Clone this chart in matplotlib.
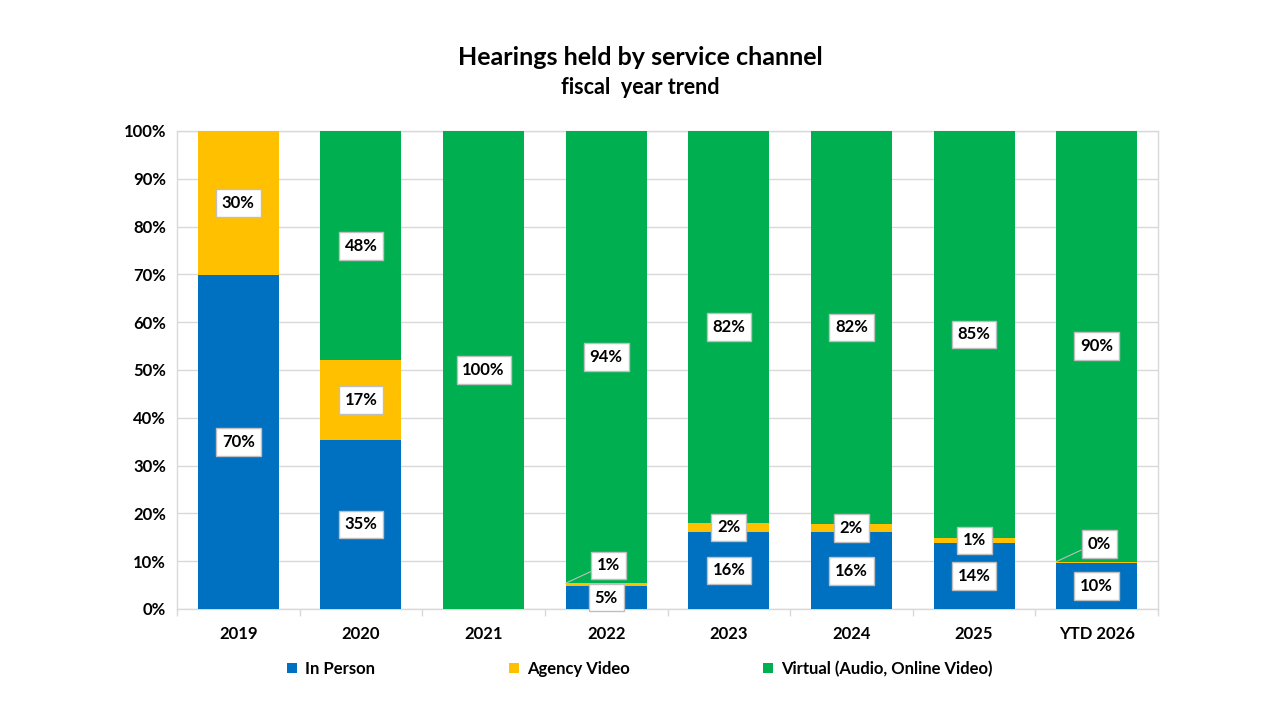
import matplotlib
matplotlib.use("Agg")
import matplotlib.pyplot as plt
import numpy as np

plt.rcParams['font.family'] = ['Lato', 'DejaVu Sans']
plt.rcParams['font.weight'] = 'bold'

years = ["2019", "2020", "2021", "2022", "2023", "2024", "2025", "YTD 2026"]
in_person = [69.8, 35.4, 0.0, 4.8, 16.1, 16.0, 13.8, 9.6]
agency_video = [30.2, 16.6, 0.0, 0.6, 1.9, 1.8, 1.1, 0.3]
virtual = [0.0, 48.0, 100.0, 94.6, 82.0, 82.2, 85.1, 90.1]
lab_in_person = ["70%", "35%", "", "5%", "16%", "16%", "14%", "10%"]
lab_agency = ["30%", "17%", "", "1%", "2%", "2%", "1%", "0%"]
lab_virtual = ["", "48%", "100%", "94%", "82%", "82%", "85%", "90%"]

series = [
    ("In Person", in_person, lab_in_person, "#0070C0"),
    ("Agency Video", agency_video, lab_agency, "#FFC000"),
    ("Virtual (Audio, Online Video)", virtual, lab_virtual, "#00B050"),
]

fig = plt.figure(figsize=(12.8, 7.2), dpi=100)
ax = fig.add_axes([0.1383, 0.1542, 0.7664, 0.6639])

x = np.arange(len(years))
box = dict(boxstyle="square,pad=0.35", fc="white", ec="#BFBFBF", lw=1)
bottom = np.zeros(len(years))
for name, vals, labs, col in series:
    vals = np.array(vals)
    ax.bar(x, vals, 0.66, bottom=bottom, color=col, label=name, zorder=3)
    for i, (v, t) in enumerate(zip(vals, labs)):
        if not t:
            continue
        if v >= 1:
            ax.text(x[i], bottom[i] + v / 2, t, ha="center", va="center",
                    fontsize=12, fontweight="bold", bbox=box, zorder=5)
        else:
            # tiny segment: label pulled up with a leader line
            ax.annotate(t, xy=(x[i] - 0.33, bottom[i] + v), xytext=(x[i] + 0.02, bottom[i] + v + 3.7),
                        ha="center", va="center", fontsize=12, fontweight="bold",
                        bbox=box, zorder=5,
                        arrowprops=dict(arrowstyle="-", color="#BFBFBF", lw=0.8,
                                        shrinkA=0, shrinkB=0,
                                        relpos=(0, 0.3)))
    bottom = bottom + vals

ax.set_xlim(-0.5, len(years) - 0.5)
ax.set_ylim(0, 100)
ax.set_yticks(np.arange(0, 101, 10))
ax.set_yticklabels([f"{v}%" for v in range(0, 101, 10)])
ax.set_xticks(x)
ax.set_xticklabels(years)
ax.set_xticks(np.arange(-0.5, len(years), 1), minor=True)
ax.tick_params(axis="x", which="major", length=0, pad=12, labelsize=12)
ax.tick_params(axis="x", which="minor", length=5, color="#D9D9D9", width=1)
ax.tick_params(axis="y", length=0, pad=8, labelsize=12)
for lbl in ax.get_xticklabels() + ax.get_yticklabels():
    lbl.set_fontweight("bold")
ax.grid(axis="y", color="#D9D9D9", lw=1, zorder=0)
for s in ax.spines.values():
    s.set_color("#D9D9D9")
    s.set_linewidth(1)

fig.text(0.5, 0.92, "Hearings held by service channel", ha="center", va="center",
         fontsize=18, fontweight="bold")
fig.text(0.5, 0.878, "fiscal  year trend", ha="center", va="center",
         fontsize=15.5, fontweight="bold")

leg = fig.legend(loc="center", bbox_to_anchor=(0.5, 0.071), ncol=3, frameon=False,
                 fontsize=12, handlelength=0.6, handleheight=0.6, columnspacing=8,
                 handletextpad=0.5)
for t in leg.get_texts():
    t.set_fontweight("bold")

fig.savefig("out.png", dpi=100)
